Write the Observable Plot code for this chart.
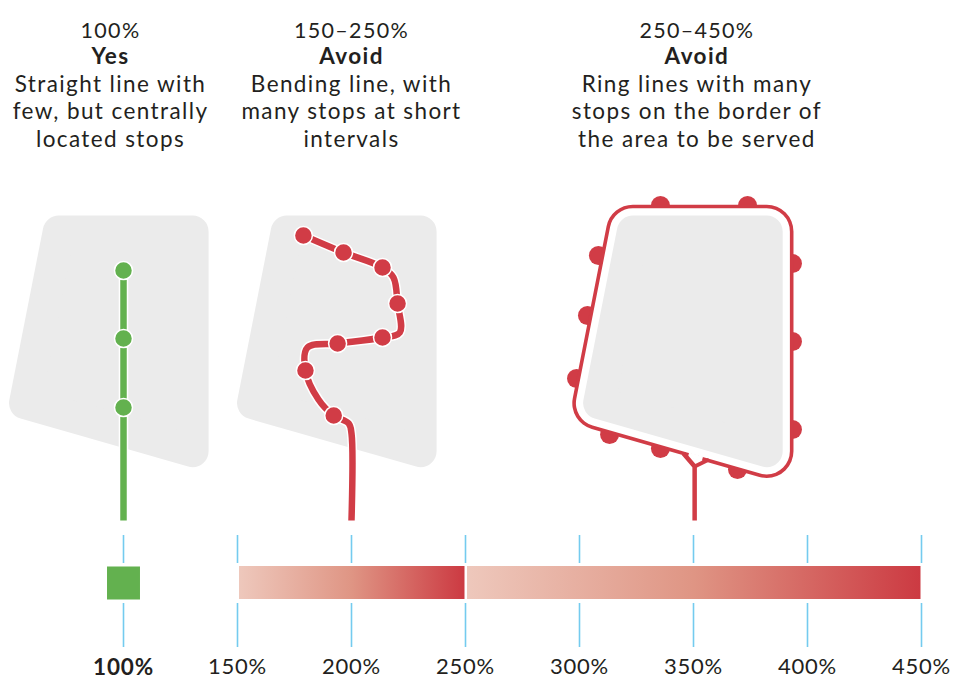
<!DOCTYPE html>
<html><head><meta charset="utf-8">
<script src="https://cdn.jsdelivr.net/npm/d3@7"></script>
<script src="https://cdn.jsdelivr.net/npm/@observablehq/plot@0.6"></script>
<style>
html,body{margin:0;padding:0;background:#fff;overflow:hidden}
#chart svg{display:block}
.hd text{letter-spacing:1.4px}
.hr text{letter-spacing:1.3px}
.ax text{letter-spacing:0.8px}
</style>
</head><body><div id="chart"></div>
<script>
// ---------- text content ----------
const headAt = [94.3, 200, 351.5];
const headRanges = ["100%", "150–250%", "250–450%"];
const headVerdicts = ["Yes", "Avoid", "Avoid"];
const headLine1 = ["Straight line with", "Bending line, with", "Ring lines with many"];
const headLine2 = ["few, but centrally", "many stops at short", "stops on the border of"];
const headLine3 = ["located stops", "intervals", "the area to be served"];

// ---------- scale values ----------
const tickValues = [100, 150, 200, 250, 300, 350, 400, 450];
const tickLabels = ["100%", "150%", "200%", "250%", "300%", "350%", "400%", "450%"];
const goodValue = 100;
const rangeStarts = [150, 250];
const rangeEnds = [250, 450];

// ---------- service areas (x in %, y in drawing units) ----------
const area1X = [71.6, 130.3, 130.3, 56.8];
const area2X = [171.6, 230.3, 230.3, 156.8];
const area3X = [323.4, 382.1, 382.1, 308.6];
const areaY = [231, 231, 450.7, 402.7];

// straight line (100%)
const greenLineX = [100, 100];
const greenLineY = [270, 520];
const greenStopsY = [270, 338, 407];

// bending line (200%)
const bendX = [178.9, 196.5, 213.6, 218.4, 220.2, 221.2, 213.6, 193.9, 180.7, 179.8, 185.5, 192.2, 198.8, 200, 200];
const bendY = [235, 252, 267, 277, 303, 332, 337, 343, 347, 370, 399, 415, 423, 433, 520];
const bendStopsX = [178.9, 196.5, 213.6, 220.2, 213.6, 193.9, 179.8, 192.2];
const bendStopsY = [235, 252, 267, 303, 337, 343, 370, 415];

// ring line (350%)
const ringStopsX = [335.5, 373.7, 308.3, 303.5, 298.7, 393.4, 393.4, 393.4, 313.2, 335.5, 369.3];
const ringStopsY = [205, 205, 255, 315, 378, 263, 341, 429, 434, 448, 469];
const stemX = [345.6, 350.5, 350.5];
const stemY = [453, 466, 520];
const armX = [356.1, 350.5];
const armY = [459.8, 466];
const gapX = [347.8, 353.9];
const gapY = [454.4, 458.4];

// ---------- styles ----------
const grey = "#ebebeb", green = "#63b14f", red = "#d13c46", blue = "#74cbef", ink = "#231f20";
const font = "Lato";

const zip = (xs, ys, extra = {}) => xs.map((x, i) => ({x, y: ys[i], ...extra}));
const areas12 = [...zip(area1X, areaY, {p: 1}), ...zip(area2X, areaY, {p: 2})];
const area3 = zip(area3X, areaY);
const headRange = [], headBold = [], headBody = [];
headAt.forEach((x, i) => {
  headRange.push({x, y: 37, t: headRanges[i]});
  headBold.push({x, y: 63, t: headVerdicts[i]});
  headBody.push({x, y: 91, t: headLine1[i]});
  headBody.push({x, y: 118, t: headLine2[i]});
  headBody.push({x, y: 146, t: headLine3[i]});
});
const bars = rangeStarts.map((s, i) => ({s, e: rangeEnds[i]}));
const labels = tickValues.map((v, i) => ({v, t: tickLabels[i]}));

const svg = Plot.plot({
  width: 959, height: 679, margin: 0,
  x: {domain: [100, 450], range: [123, 921], axis: null},
  y: {domain: [0, 679], range: [0, 679], axis: null},
  style: {background: "#fff", fontFamily: font},
  marks: [
    // grey areas 1 & 2
    Plot.line(areas12, {x: "x", y: "y", z: "p", curve: "linear-closed", fill: grey, stroke: grey, strokeWidth: 32, strokeLinejoin: "round"}),
    // ring: stops, red ring, white gap, grey area
    Plot.dot(zip(ringStopsX, ringStopsY), {x: "x", y: "y", r: 9.5, fill: red, stroke: "none"}),
    Plot.line(area3, {x: "x", y: "y", curve: "linear-closed", fill: red, stroke: red, strokeWidth: 53.6, strokeLinejoin: "round"}),
    Plot.line(area3, {x: "x", y: "y", curve: "linear-closed", fill: "#fff", stroke: "#fff", strokeWidth: 46.4, strokeLinejoin: "round"}),
    Plot.line(area3, {x: "x", y: "y", curve: "linear-closed", fill: grey, stroke: grey, strokeWidth: 32, strokeLinejoin: "round"}),
    Plot.line(zip(gapX, gapY), {x: "x", y: "y", stroke: "#fff", strokeWidth: 5, strokeLinecap: "butt"}),
    Plot.line(zip(stemX, stemY), {x: "x", y: "y", stroke: red, strokeWidth: 4.5, strokeLinecap: "butt", strokeLinejoin: "round"}),
    Plot.line(zip(armX, armY), {x: "x", y: "y", stroke: red, strokeWidth: 4, strokeLinecap: "round"}),
    // straight green line
    Plot.line(zip(greenLineX, greenLineY), {x: "x", y: "y", stroke: "#fff", strokeWidth: 9.5, strokeLinecap: "butt"}),
    Plot.line(zip(greenLineX, greenLineY), {x: "x", y: "y", stroke: green, strokeWidth: 6.5, strokeLinecap: "butt"}),
    Plot.dot(greenStopsY, {x: () => 100, y: d => d, r: 9, fill: green, stroke: "#fff", strokeWidth: 1.5}),
    // bending red line
    Plot.line(zip(bendX, bendY), {x: "x", y: "y", stroke: "#fff", strokeWidth: 9.5, curve: "catmull-rom", strokeLinecap: "butt"}),
    Plot.line(zip(bendX, bendY), {x: "x", y: "y", stroke: red, strokeWidth: 6.5, curve: "catmull-rom", strokeLinecap: "butt"}),
    Plot.dot(zip(bendStopsX, bendStopsY), {x: "x", y: "y", r: 9, fill: red, stroke: "#fff", strokeWidth: 1.5}),
    // scale ticks
    Plot.ruleX(tickValues, {x: d => d, y1: 535, y2: 563, stroke: blue, strokeWidth: 1.6}),
    Plot.ruleX(tickValues, {x: d => d, y1: 603, y2: 647, stroke: blue, strokeWidth: 1.6}),
    // bars
    Plot.dot([goodValue], {x: d => d, y: () => 582.5, symbol: "square", r: 18.6, fill: green, stroke: "none"}),
    Plot.rect(bars, {x1: "s", x2: "e", y1: () => 566, y2: () => 599, fill: "url(#barGrad)", insetLeft: 2, insetRight: 0.5}),
    // labels
    Plot.text(labels.slice(1), {x: "v", y: () => 673, text: "t", lineAnchor: "bottom", fontSize: 22, fill: ink, fontFamily: font, className: "ax"}),
    Plot.text(labels.slice(0, 1), {x: "v", y: () => 674, text: "t", lineAnchor: "bottom", fontSize: 22.5, fontWeight: "bold", fill: ink, fontFamily: font, className: "ax"}),
    // header
    Plot.text(headRange, {x: "x", y: "y", text: "t", fontSize: 21.5, lineAnchor: "bottom", fill: ink, fontFamily: font, className: "hr"}),
    Plot.text(headBold, {x: "x", y: "y", text: "t", fontSize: 22.5, fontWeight: "bold", lineAnchor: "bottom", fill: ink, fontFamily: font, className: "hd"}),
    Plot.text(headBody, {x: "x", y: "y", text: "t", fontSize: 22.5, lineAnchor: "bottom", fill: ink, fontFamily: font, className: "hd"})
  ]
});

const defs = d3.select(svg).insert("defs", ":first-child");
const g = defs.append("linearGradient").attr("id", "barGrad").attr("x1", "0").attr("x2", "1").attr("y1", "0").attr("y2", "0");
g.append("stop").attr("offset", "0").attr("stop-color", "#eec8bc");
g.append("stop").attr("offset", "0.5").attr("stop-color", "#df9584");
g.append("stop").attr("offset", "1").attr("stop-color", "#cc3a42");

document.getElementById("chart").appendChild(svg);
</script>
</body></html>
